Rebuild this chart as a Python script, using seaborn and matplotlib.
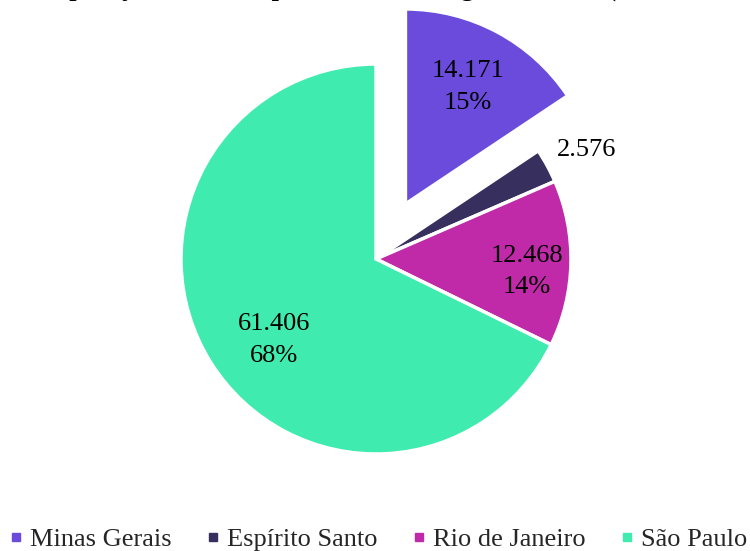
import numpy as np
import matplotlib
matplotlib.use("Agg")
import matplotlib.pyplot as plt
import seaborn as sns
from matplotlib.lines import Line2D

sns.set_theme(style="white")
plt.rcParams['font.family'] = ['Liberation Serif', 'DejaVu Serif']

categories = ["Minas Gerais", "Espírito Santo", "Rio de Janeiro", "São Paulo"]
values = [14.171, 2.576, 12.468, 61.406]
value_labels = ["14.171", "2.576", "12.468", "61.406"]
pct_labels = ["15%", "", "14%", "68%"]
colors = ["#6A4BDB", "#372F5E", "#C02AA8", "#40EBAF"]
title = "População estimada por estado da Região Sudeste (em milhares)"

explode = [0.32, 0.0, 0.0, 0.0]
label_dist = [0.68, 1.215, 0.776, 0.667]
label_dang = [0.0, -1.3, -3.5, 6.5]

W, H = 750, 551
fig = plt.figure(figsize=(7.5, 5.51), dpi=100)
ax = fig.add_axes([0, 0, 1, 1])
cx, cy, r = 376, 259, 195

wedges, _ = ax.pie(values, colors=colors, startangle=90, counterclock=False,
                   explode=explode, radius=1.0,
                   wedgeprops=dict(edgecolor="white", linewidth=2.5))
ax.set_xlim(-cx / r, (W - cx) / r)
ax.set_ylim(-(H - cy) / r, cy / r)
ax.set_aspect('auto')
ax.axis('off')

for i, w in enumerate(wedges):
    ang = np.deg2rad((w.theta1 + w.theta2) / 2 + label_dang[i])
    ox, oy = w.center
    d = label_dist[i]
    x = ox + d * np.cos(ang)
    y = oy + d * np.sin(ang)
    txt = value_labels[i] if not pct_labels[i] else value_labels[i] + "\n" + pct_labels[i]
    ax.text(x, y, txt, ha="center", va="center", fontsize=19, color="black",
            linespacing=1.55)

fig.text(0.535, 1.0 + 4.3 / H, title, ha="center", va="baseline", fontsize=19,
         fontweight="bold", color="black")

handles = [Line2D([0], [0], marker='s', linestyle='', markersize=6,
                  markerfacecolor=c, markeredgecolor=c) for c in colors]
fig.legend(handles, categories, loc="lower center", ncol=4, frameon=False,
           fontsize=19, bbox_to_anchor=(0.502, -0.044), handletextpad=0.15,
           columnspacing=1.15, handlelength=0.8)

fig.savefig("out.png", dpi=100)
